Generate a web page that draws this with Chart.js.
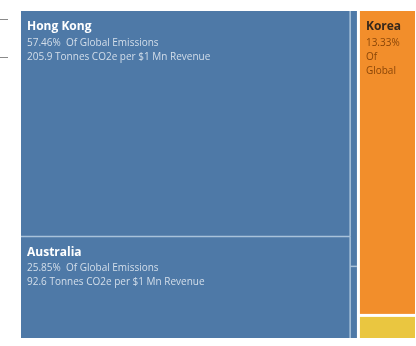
<!DOCTYPE html>
<html>
<head>
<meta charset="utf-8">
<script src="https://cdn.jsdelivr.net/npm/chart.js@4.4.1/dist/chart.umd.min.js"></script>
<style>
    html, body { margin: 0; padding: 0; background: #ffffff; }
    #wrap { position: relative; width: 416px; height: 346px; }
</style>
</head>
<body>
<div id="wrap"><canvas id="treemap_chart"></canvas></div>
<script>
// share of global emissions (%) and intensity per country
const countries = ['Hong Kong', 'Australia', 'Other A', 'Other B', 'Korea', 'Other C'];
const shares = [57.46, 25.85, 1.64, 0.46, 13.33, 0.99];
const intensity = [205.9, 92.6, null, null, null, null];
const colourGroups = ['blue', 'blue', 'blue', 'blue', 'orange', 'yellow'];

// outer columns -> inner columns -> stacked cells (indices into the arrays above)
const layout = [[[0, 1], [2, 3]], [[4, 5]]];

const groupColours = { blue: '#4e79a7', orange: '#f28e2b', yellow: '#eac640' };
const titleColours = { blue: '#ffffff', orange: '#35271b', yellow: '#35271b' };
const textColours = { blue: '#d3deea', orange: '#8a4608', yellow: '#6b4a1e' };

const sum = arr => arr.reduce((a, i) => a + shares[i], 0);
const total = shares.reduce((a, b) => a + b, 0);

// slice-and-dice layout in data units: x = cumulative share, y = 0..100 within column
function buildCells() {
    const cells = [];
    let x = 0;
    layout.forEach(outer => {
        const outerStart = x;
        const outerSum = outer.reduce((a, col) => a + sum(col), 0);
        outer.forEach(col => {
            const colSum = sum(col);
            let y = 0;
            col.forEach((i, k) => {
                const h = shares[i] / colSum * 100;
                cells.push({
                    i, x0: x, x1: x + colSum, y0: y, y1: y + h,
                    outerStart, outerEnd: outerStart + outerSum,
                    above: k > 0 ? col[k - 1] : null,
                    below: k < col.length - 1 ? col[k + 1] : null
                });
                y += h;
            });
            x += colSum;
        });
    });
    return cells;
}

function wrapText(ctx, text, maxWidth, maxLines) {
    const words = text.split(' ').filter(w => w.length);
    const lines = [];
    let line = '';
    words.forEach(w => {
        const test = line ? line + ' ' + w : w;
        if (ctx.measureText(test).width > maxWidth && line) {
            lines.push(line);
            line = w;
        } else {
            line = test;
        }
    });
    if (line) lines.push(line);
    return lines.slice(0, maxLines);
}

const treemapPlugin = {
    id: 'treemap',
    afterDatasetsDraw(chart) {
        const ctx = chart.ctx;
        const xs = chart.scales.x;
        const ys = chart.scales.y;
        const cells = buildCells();
        const gap = 1.5;

        ctx.save();
        cells.forEach(c => {
            const g = colourGroups[c.i];
            let left = xs.getPixelForValue(c.x0);
            let right = xs.getPixelForValue(c.x1);
            let top = ys.getPixelForValue(c.y0);
            let bottom = ys.getPixelForValue(c.y1);
            if (c.x0 === c.outerStart && c.x0 > 0) left += gap;
            if (c.x1 === c.outerEnd && c.x1 < total - 1e-9) right -= gap;
            if (c.above !== null && colourGroups[c.above] !== g) top += gap;
            if (c.below !== null && colourGroups[c.below] !== g) bottom -= gap;
            c.px = { left, right, top, bottom };

            ctx.fillStyle = groupColours[g];
            ctx.fillRect(left, top, right - left, bottom - top);
        });

        // thin light separators between cells of the same colour group
        ctx.strokeStyle = '#a9c2da';
        ctx.lineWidth = 1.5;
        cells.forEach(c => {
            const g = colourGroups[c.i];
            if (c.below !== null && colourGroups[c.below] === g) {
                ctx.beginPath();
                ctx.moveTo(c.px.left, c.px.bottom);
                ctx.lineTo(c.px.right, c.px.bottom);
                ctx.stroke();
            }
            if (c.x1 !== c.outerEnd) {
                ctx.beginPath();
                ctx.moveTo(c.px.right, c.px.top);
                ctx.lineTo(c.px.right, c.px.bottom);
                ctx.stroke();
            }
        });

        // labels, only where the cell is big enough
        ctx.textBaseline = 'middle';
        ctx.textAlign = 'left';
        cells.forEach(c => {
            const g = colourGroups[c.i];
            const w = c.px.right - c.px.left - 12;
            const h = c.px.bottom - c.px.top;
            if (w < 30 || h < 40) return;
            const tx = c.px.left + 6;
            let ty = c.px.top + 16;
            ctx.font = 'bold 12px "Open Sans", sans-serif';
            ctx.fillStyle = titleColours[g];
            ctx.fillText(countries[c.i], tx, ty);

            ctx.font = '10px "Open Sans", sans-serif';
            ctx.fillStyle = textColours[g];
            let lines = [shares[c.i].toFixed(2) + '%  Of Global Emissions'];
            if (intensity[c.i] !== null) {
                lines.push(intensity[c.i].toFixed(1) + ' Tonnes CO2e per $1 Mn Revenue');
            }
            lines = lines.flatMap(l => ctx.measureText(l).width > w ? wrapText(ctx, l, w, 3) : [l]).slice(0, 3);
            ty += 16;
            lines.forEach(l => {
                ctx.fillText(l, tx, ty);
                ty += 14;
            });
        });

        // stray marks at the left edge of the picture
        ctx.strokeStyle = '#8a8a8a';
        ctx.lineWidth = 1;
        [19.5, 57.5].forEach(y => {
            ctx.beginPath();
            ctx.moveTo(0, y);
            ctx.lineTo(8, y);
            ctx.stroke();
        });
        ctx.restore();
    }
};

const ctx = document.getElementById('treemap_chart').getContext('2d');
new Chart(ctx, {
    type: 'scatter',
    data: {
        datasets: [{ label: 'Emissions', data: [] }]
    },
    options: {
        responsive: true,
        maintainAspectRatio: false,
        animation: false,
        layout: { padding: { left: 21, top: 11, right: 1, bottom: 8 } },
        scales: {
            x: { type: 'linear', min: 0, max: total, display: false },
            y: { type: 'linear', min: 0, max: 100, reverse: true, display: false }
        },
        plugins: {
            legend: { display: false },
            tooltip: { enabled: false }
        }
    },
    plugins: [treemapPlugin]
});
</script>
</body>
</html>
